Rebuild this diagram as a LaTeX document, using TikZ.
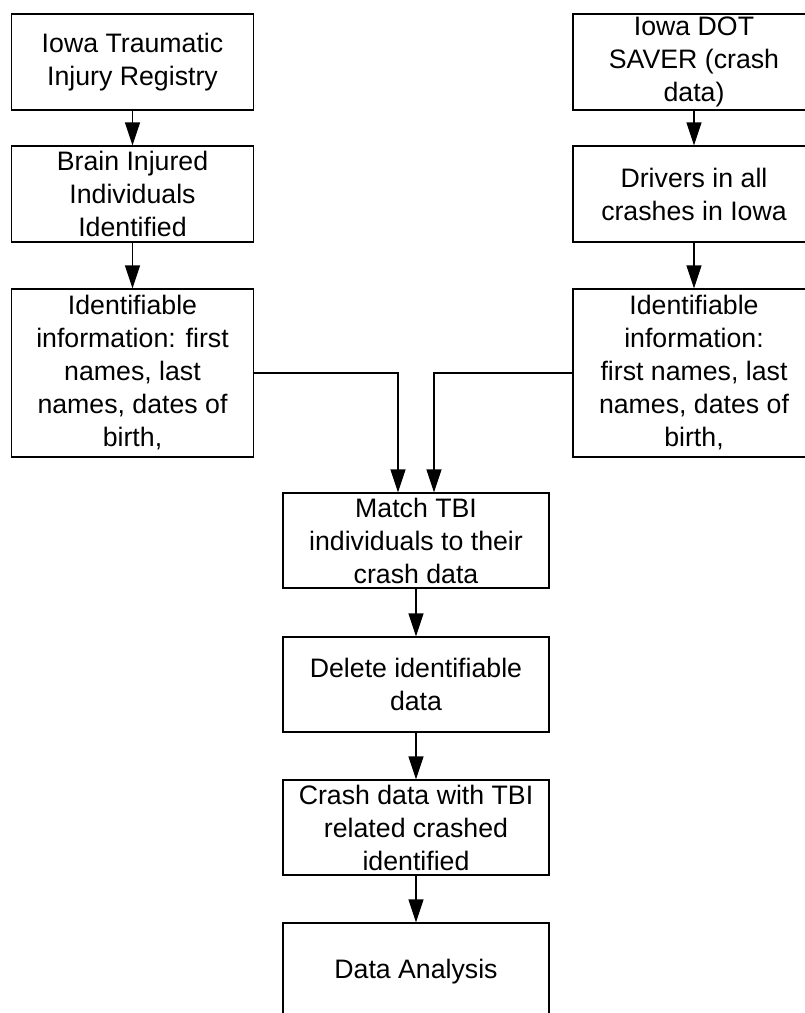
\documentclass[tikz,border=0pt]{standalone}
\usepackage{fontspec}
\setmainfont{Liberation Sans}
\usetikzlibrary{arrows.meta}
\begin{document}
\begin{tikzpicture}[x=1pt,y=-1pt,
  box/.style={draw,line width=1.3pt,minimum width=242pt,minimum height=96pt,align=center,inner sep=0pt,
    font=\fontsize{26.7pt}{33pt}\selectfont},
  arr/.style={line width=1.3pt,-{Triangle[width=15pt,length=23pt]}}]
\useasboundingbox (0,0) rectangle (805,1013);
\clip (0,0) rectangle (805,1013);
\fill[white] (0,0) rectangle (805,1013);
\node[box] (a1) at (132.5,62) {Iowa Traumatic\\Injury Registry};
\node[box] (a2) at (132.5,194) {Brain Injured\\Individuals\\Identified};
\node[box,minimum height=168pt] (a3) at (132.5,373) {Identifiable\\information: first\\names, last\\names, dates of\\birth,};
\node[box] (b1) at (694,62) {Iowa DOT\\SAVER (crash\\data)};
\node[box] (b2) at (694,194) {Drivers in all\\crashes in Iowa};
\node[box,minimum height=168pt] (b3) at (694,373) {Identifiable\\information:\\first names, last\\names, dates of\\birth,};
\node[box,minimum width=266pt,minimum height=95pt] (c1) at (416,540.5) {Match TBI\\individuals to their\\crash data};
\node[box,minimum width=266pt,minimum height=95pt] (c2) at (416,684.5) {Delete identifiable\\data};
\node[box,minimum width=266pt,minimum height=95pt] (c3) at (416,827.5) {Crash data with TBI\\related crashed\\identified};
\node[box,minimum width=266pt,minimum height=98pt] (c4) at (416,972) {Data Analysis};
\draw[arr] (a1) -- (a2);
\draw[arr] (a2) -- (a3);
\draw[arr] (b1) -- (b2);
\draw[arr] (b2) -- (b3);
\draw[arr] (a3.east) -| ([xshift=-18pt]c1.north);
\draw[arr] (b3.west) -| ([xshift=18pt]c1.north);
\draw[arr] (c1) -- (c2);
\draw[arr] (c2) -- (c3);
\draw[arr] (c3) -- (c4);
\end{tikzpicture}
\end{document}
